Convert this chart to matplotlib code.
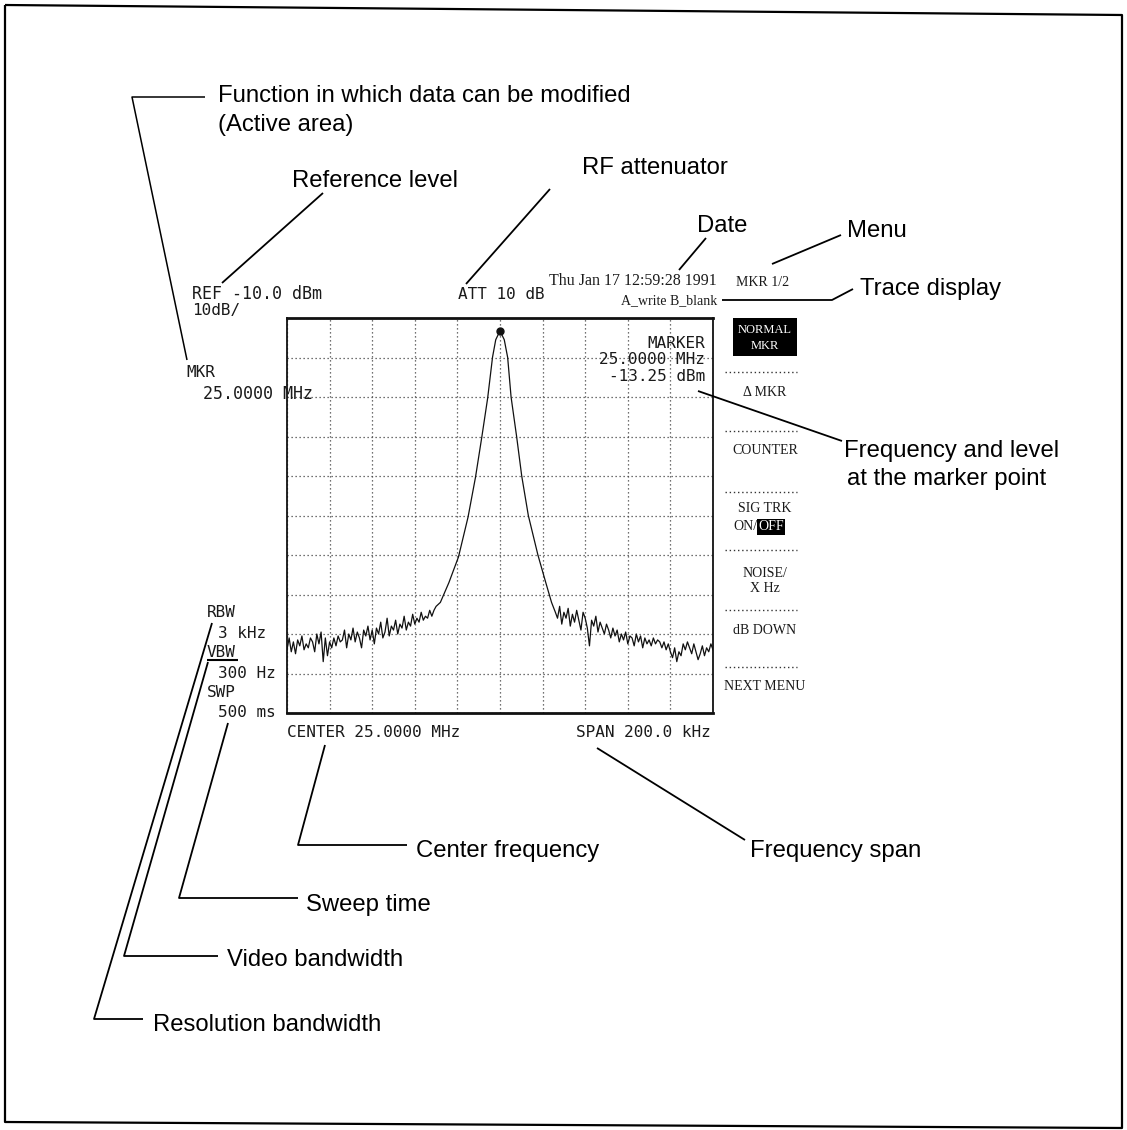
import matplotlib
matplotlib.use("Agg")
import matplotlib.pyplot as plt

# ---------------- data ----------------
# spectrum trace: frequency offset from 25.0000 MHz (kHz) and level (dBm)
freq_khz = [-100, -99, -98, -97, -96, -95, -94, -93, -92, -91, -90, -89, -88, -87, -86,
            -85, -84, -83, -82, -81, -80, -79, -78, -77, -76, -75, -74, -73, -72, -71,
            -70, -69, -68, -67, -66, -65, -64, -63, -62, -61, -60, -59, -58, -57, -56,
            -55, -54, -53, -52, -51, -50, -49, -48, -47, -46, -45, -44, -43, -42, -41,
            -40, -39, -38, -37, -36, -35, -34, -33, -32, -31, -30,
            -28, -24, -19.5, -15, -11.5, -8.5, -5.8, -3.5, -2, 0, 2, 3.6, 5.2, 7.8, 10.2,
            13.3, 17.8, 21.5, 24.2,
            26, 27, 28, 29, 30, 31, 32, 33, 34, 35, 36, 37, 38, 39, 40, 41, 42, 43,
            44, 45, 46, 47, 48, 49, 50, 51, 52, 53, 54, 55, 56, 57, 58, 59, 60, 61,
            62, 63, 64, 65, 66, 67, 68, 69, 70, 71, 72, 73, 74, 75, 76, 77, 78, 79,
            80, 81, 82, 83, 84, 85, 86, 87, 88, 89, 90, 91, 92, 93, 94, 95, 96, 97,
            98, 99, 100]
level_dbm = [-94.0, -91.0, -94.5, -92.0, -95.0, -91.5, -93.0, -90.5, -94.0, -92.5, -93.5,
             -91.0, -92.0, -94.5, -90.0, -92.5, -89.5, -97.0, -91.0, -95.5, -92.0, -93.5,
             -91.0, -93.0, -90.5, -92.0, -91.5, -89.0, -93.5, -90.0, -91.5, -88.5, -92.0,
             -89.5, -91.0, -93.5, -89.0, -90.5, -88.0, -91.5, -89.0, -92.5, -88.5, -90.0,
             -87.0, -91.0, -89.5, -86.0, -90.5, -88.0, -89.0, -86.5, -90.0, -87.5, -88.5,
             -85.5, -89.0, -87.0, -88.0, -85.0, -87.5, -86.0, -87.0, -84.5, -86.5, -85.5,
             -86.0, -84.0, -85.5, -84.0, -83.0,
             -82.0, -77.0, -70.5, -60.4, -50.3, -40.0, -30.3, -19.9, -15.5, -13.25, -15.5,
             -20.0, -30.0, -40.0, -50.0, -60.0, -70.0, -77.0, -82.0,
             -84.5, -86.0, -83.0, -87.5, -84.5, -86.0, -83.5, -88.0, -85.0, -87.0, -84.0,
             -86.5, -89.0, -84.5, -86.0, -88.5, -93.0, -86.5, -88.0, -85.5, -89.5, -87.0,
             -88.5, -90.0, -87.5, -89.0, -91.0, -88.5, -90.5, -89.0, -92.0, -90.0, -91.5,
             -89.5, -92.5, -90.5, -91.0, -93.0, -90.0, -92.0, -90.5, -93.5, -91.0, -92.5,
             -91.5, -93.0, -91.0, -92.5, -91.5, -92.0, -93.5, -92.0, -94.0, -92.5, -94.5,
             -96.0, -93.5, -97.0, -94.5, -95.5, -92.5, -94.0, -92.0, -93.5, -95.0, -92.5,
             -94.5, -96.5, -95.0, -93.0, -95.5, -93.5, -94.5, -92.5, -94.0]
marker_khz = 0
marker_dbm = -13.25
ref_level = -10.0
db_per_div = 10
span_khz = 200

screen_texts_left = ["RBW", "3 kHz", "VBW", "300 Hz", "SWP", "500 ms"]
softkeys = ["\u0394 MKR", "COUNTER", "SIG TRK", "NOISE/\nX Hz", "dB DOWN", "NEXT MENU"]

W, H = 1127, 1130
fig = plt.figure(figsize=(W / 100, H / 100), dpi=100)
fig.patch.set_facecolor("white")

# ---------------- spectrum screen ----------------
sx0, sx1, sy0, sy1 = 287, 713, 318, 713
sa = fig.add_axes([sx0 / W, (H - sy1) / H, (sx1 - sx0) / W, (sy1 - sy0) / H])
sa.set_xlim(-span_khz / 2, span_khz / 2)
sa.set_ylim(ref_level - 10 * db_per_div, ref_level)
sa.set_xticks([-span_khz / 2 + i * span_khz / 10 for i in range(11)])
sa.set_yticks([ref_level - i * db_per_div for i in range(11)])
sa.tick_params(length=0, labelbottom=False, labelleft=False)
sa.grid(True, color="#444444", linestyle=(0, (1, 2.2)), linewidth=0.9)
for side, lw in [("top", 2.0), ("bottom", 2.0), ("left", 1.3), ("right", 1.3)]:
    sa.spines[side].set_linewidth(lw)
    sa.spines[side].set_color("#111111")
sa.plot(freq_khz, level_dbm, color="#111111", linewidth=0.9)
sa.plot([marker_khz], [marker_dbm], "o", color="#111111", markersize=5)

# ---------------- overlay in pixel coordinates ----------------
ov = fig.add_axes([0, 0, 1, 1])
ov.set_xlim(0, W)
ov.set_ylim(H, 0)
ov.axis("off")
ov.patch.set_alpha(0)

SANS = "Liberation Sans"
MONO = "DejaVu Sans Mono"
SERIF = "Liberation Serif"
lab = dict(family=SANS, fontsize=17.2, color="black", va="baseline")
mono = dict(family=MONO, fontsize=11.5, color="#1a1a1a", va="baseline")
serif = dict(family=SERIF, fontsize=10, color="#1a1a1a", va="center", ha="center")


def line(pts, lw=1.3):
    xs = [p[0] for p in pts]
    ys = [p[1] for p in pts]
    ov.plot(xs, ys, color="black", linewidth=lw, solid_capstyle="butt")


# outer frame
line([(5, 5), (1122, 15), (1122, 1128), (5, 1122), (5, 5)], lw=1.6)

# callout labels
ov.text(218, 102, "Function in which data can be modified", **lab)
ov.text(218, 131, "(Active area)", **lab)
ov.text(292, 187, "Reference level", **lab)
ov.text(582, 174, "RF attenuator", **lab)
ov.text(697, 232, "Date", **lab)
ov.text(847, 237, "Menu", **lab)
ov.text(860, 295, "Trace display", **lab)
ov.text(844, 457, "Frequency and level", **lab)
ov.text(847, 485, "at the marker point", **lab)
ov.text(416, 857, "Center frequency", **lab)
ov.text(750, 857, "Frequency span", **lab)
ov.text(306, 911, "Sweep time", **lab)
ov.text(227, 966, "Video bandwidth", **lab)
ov.text(153, 1031, "Resolution bandwidth", **lab)

# leader lines
line([(205, 97), (132, 97), (187, 360)], lw=1.1)
line([(222, 283), (323, 193)])
line([(466, 284), (550, 189)])
line([(679, 270), (706, 238)])
line([(772, 264), (841, 235)])
line([(722, 300), (832, 300), (853, 289)])
line([(698, 391), (842, 441)])
line([(325, 745), (298, 845), (407, 845)])
line([(597, 748), (745, 840)])
line([(228, 723), (179, 898), (298, 898)])
line([(208, 662), (124, 956), (218, 956)])
line([(212, 623), (94, 1019), (143, 1019)])

# screen annotations
ov.text(192, 299, "REF -10.0 dBm", **{**mono, "fontsize": 12})
ov.text(192, 315, "10dB/", **mono)
ov.text(458, 299, "ATT 10 dB", **mono)
ov.text(186, 377, "MKR", **mono)
ov.text(203, 399, "25.0000 MHz", **{**mono, "fontsize": 12})
ov.text(717, 285, "Thu Jan 17 12:59:28 1991", family=SERIF, fontsize=11.5,
        color="#1a1a1a", ha="right", va="baseline")
ov.text(717, 304, "A_write B_blank", family=SERIF, fontsize=10,
        color="#1a1a1a", ha="right", va="baseline")
ov.text(705, 348, "MARKER", ha="right", **mono)
ov.text(705, 364, "25.0000 MHz", ha="right", **mono)
ov.text(705, 381, "-13.25 dBm", ha="right", **mono)
ov.text(287, 737, "CENTER 25.0000 MHz", **mono)
ov.text(711, 737, "SPAN 200.0 kHz", ha="right", **mono)

left_xy = [(207, 617), (218, 638), (207, 657), (218, 678), (207, 697), (218, 717)]
for (x, y), t in zip(left_xy, screen_texts_left):
    ov.text(x, y, t, **mono)
line([(207, 660), (238, 660)], lw=1.5)

# soft-key menu
ov.text(763, 283, "MKR 1/2", **serif)
ov.add_patch(plt.Rectangle((733, 318), 64, 38, facecolor="black", edgecolor="none"))
ov.text(765, 330, "NORMAL", **{**serif, "color": "white", "fontsize": 9})
ov.text(765, 346, "MKR", **{**serif, "color": "white", "fontsize": 9})
for y in [372, 431, 492, 550, 610, 667]:
    ov.plot([725, 797], [y, y], color="#333333", linewidth=1.0, linestyle=(0, (1, 2)))
soft_y = [392, 450, 509, 581, 630, 687]
for y, t in zip(soft_y, softkeys):
    ov.text(765, y, t, linespacing=1.15, **serif)
ov.text(757, 527, "ON/", ha="right", va="center", family=SERIF, fontsize=10, color="#1a1a1a")
ov.text(758, 527, "OFF", ha="left", va="center", family=SERIF, fontsize=10, color="white",
        bbox=dict(facecolor="black", edgecolor="none", pad=0.8))

fig.savefig("out.png", dpi=100, facecolor="white")
